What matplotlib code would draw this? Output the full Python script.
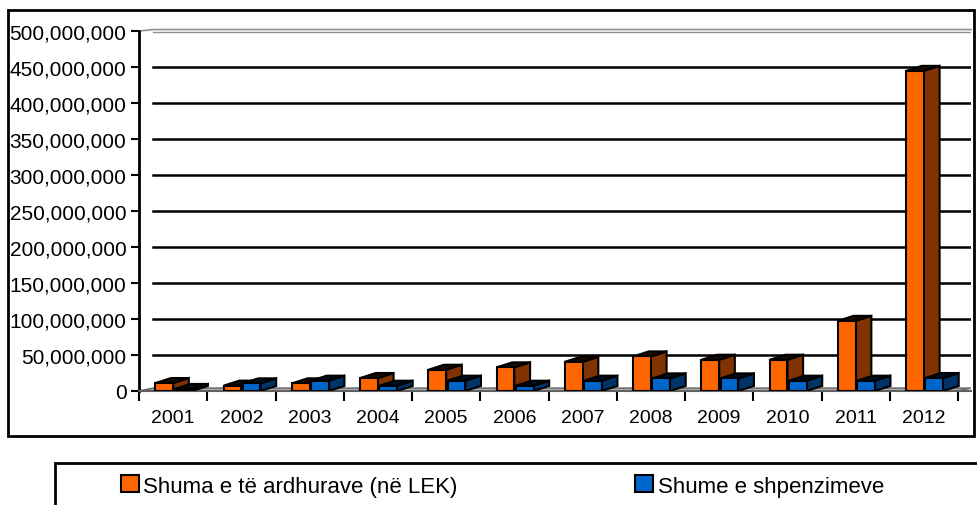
import numpy as np
import matplotlib.pyplot as plt
from matplotlib.patches import Patch, Rectangle

# Data (LEK)
years = ['2001', '2002', '2003', '2004', '2005', '2006',
         '2007', '2008', '2009', '2010', '2011', '2012']
income = [11e6, 7.4e6, 10.6e6, 18e6, 29.5e6, 32.8e6,
          40.6e6, 48e6, 43.4e6, 43.4e6, 97.4e6, 444.6e6]
expenses = [2.8e6, 10.6e6, 14.3e6, 7.3e6, 14.3e6, 7.3e6,
            14.3e6, 17.5e6, 17.5e6, 14.3e6, 14.3e6, 18e6]
labels = ['Shuma e të ardhurave (në LEK)', 'Shume e shpenzimeve']

plt.rcParams['font.family'] = ['Liberation Sans', 'DejaVu Sans']

fig = plt.figure(figsize=(9.77, 5.06), dpi=100)
ax = fig.add_axes([139 / 977, 114 / 506, 832 / 977, 360 / 506])

x = np.arange(len(years))
w = 0.26      # front face width
dx = 0.23     # depth offset (x)
dy = 7e6      # depth offset (y)


def bar3d(x0, heights, front, side, top, z):
    # front faces through the normal bar call, side/top faces as polygons
    ax.bar(x0, heights, width=w, align='edge', color=front,
           edgecolor='black', linewidth=1.5, zorder=z + 0.2)
    for xl, h in zip(x0, heights):
        xr = xl + w
        ax.fill([xr, xr + dx, xr + dx, xr], [0, dy, h + dy, h],
                color=side, ec='black', lw=1.5, zorder=z)
        ax.fill([xl, xr, xr + dx, xl + dx], [h, h, h + dy, h + dy],
                color=top, ec='black', lw=1.5, zorder=z + 0.1)


bar3d(x - w, income, '#FF6600', '#803300', '#1a0a00', 3)
bar3d(x + 0.02, expenses, '#0066CC', '#003366', '#000d1a', 4)

xmax = 11.69
# back wall gridlines
for v in np.arange(50e6, 450e6 + 1, 50e6):
    ax.plot([-0.29, xmax], [v, v], color='black', lw=1.8, zorder=1)
ax.plot([-0.5, -0.29, xmax], [500e6, 502e6, 502e6], color='#909090',
        lw=1.2, zorder=1, clip_on=False)
ax.plot([-0.29, xmax], [499e6, 499e6], color='#909090', lw=1, zorder=1)

# floor
ax.fill([-0.5, 11.5, xmax, -0.29], [0, 0, 4e6, 4e6],
        color='#b0b0b0', ec='#707070', lw=1.2, zorder=2)

ax.set_xlim(-0.5, xmax)
ax.set_ylim(0, 500e6)

ax.spines['top'].set_visible(False)
ax.spines['right'].set_visible(False)
ax.spines['left'].set_linewidth(2)
ax.spines['bottom'].set_color('#606060')
ax.spines['bottom'].set_linewidth(1.5)

ax.set_xticks(np.arange(-0.5, 12, 1))
ax.set_xticklabels([])
ax.set_xticks(x, minor=True)
ax.set_xticklabels(years, minor=True)
ax.tick_params(axis='x', which='major', length=7, width=1.5)
ax.tick_params(axis='x', which='minor', length=0, pad=13, labelsize=14)

yt = np.arange(0, 500e6 + 1, 50e6)
ax.set_yticks(yt)
ax.set_yticklabels([f'{int(v):,}' for v in yt])
ax.tick_params(axis='y', length=6, width=1.5, pad=3, labelsize=15)

# chart border and legend box
fig.add_artist(Rectangle((8 / 977, 69 / 506), 966 / 977, 426 / 506,
                         transform=fig.transFigure, fill=False,
                         ec='black', lw=2))
fig.add_artist(Rectangle((55 / 977, -0.05), 1, 42 / 506 + 0.05,
                         transform=fig.transFigure, fill=False,
                         ec='black', lw=2))

handles = [Patch(fc='#FF6600', ec='black', lw=1.5),
           Patch(fc='#0066CC', ec='black', lw=1.5)]
fig.legend(handles, labels, loc='center left',
           bbox_to_anchor=(121 / 977, 19 / 506), ncol=2, frameon=False,
           fontsize=16, handlelength=0.8, handleheight=0.8,
           handletextpad=0.2, columnspacing=8.0, borderpad=0,
           borderaxespad=0)

fig.savefig('out.png', dpi=100)
